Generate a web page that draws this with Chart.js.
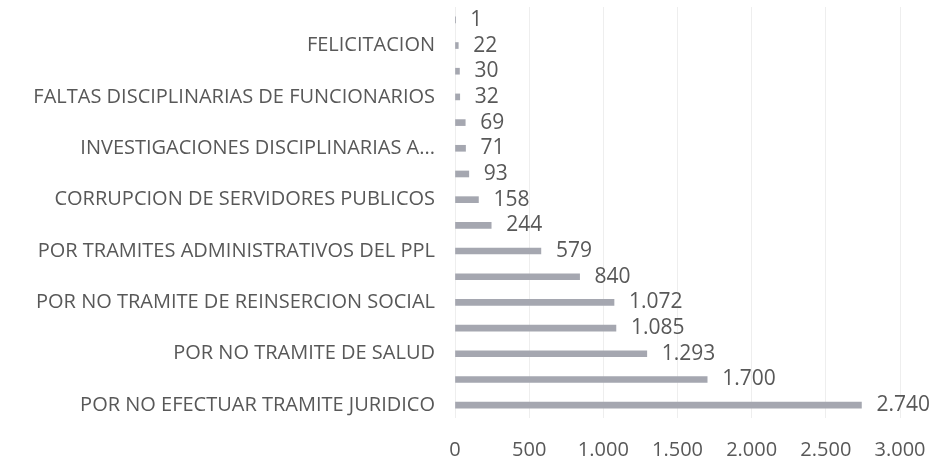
<!DOCTYPE html>
<html>
<head>
<meta charset="utf-8">
<script src="https://cdn.jsdelivr.net/npm/chart.js@4.4.1/dist/chart.umd.min.js"></script>
<style>
  html, body { margin: 0; padding: 0; background: #ffffff; }
  #wrap { width: 938px; height: 462px; position: relative; }
</style>
</head>
<body>
<div id="wrap"><canvas id="c"></canvas></div>
<script>
// Categories, top to bottom (unlabelled rows in the picture are left blank)
const categories = [
  "",
  "FELICITACION",
  "",
  "FALTAS DISCIPLINARIAS DE FUNCIONARIOS",
  "",
  "INVESTIGACIONES DISCIPLINARIAS A...",
  "",
  "CORRUPCION DE SERVIDORES PUBLICOS",
  "",
  "POR TRAMITES ADMINISTRATIVOS DEL PPL",
  "",
  "POR NO TRAMITE DE REINSERCION SOCIAL",
  "",
  "POR NO TRAMITE DE SALUD",
  "",
  "POR NO EFECTUAR TRAMITE JURIDICO"
];
const values = [1, 22, 30, 32, 69, 71, 93, 158, 244, 579, 840, 1072, 1085, 1293, 1700, 2740];
const xTicks = [0, 500, 1000, 1500, 2000, 2500, 3000];

const FONT = "'Open Sans', sans-serif";
const TEXT = '#585858';
const fmt = v => v.toLocaleString('de-DE');

const valueLabels = {
  id: 'valueLabels',
  afterDatasetsDraw(chart) {
    const ctx = chart.ctx;
    const meta = chart.getDatasetMeta(0);
    ctx.save();
    ctx.font = "21px " + FONT;
    ctx.fillStyle = TEXT;
    ctx.textBaseline = 'middle';
    ctx.textAlign = 'left';
    meta.data.forEach((el, i) => {
      const txt = fmt(values[i]);
      const w = ctx.measureText(txt).width;
      let x = el.x + 15;
      const maxX = chart.width - w - 2;
      if (x > maxX) x = maxX;
      ctx.fillText(txt, x, el.y);
    });
    ctx.restore();
  }
};

new Chart(document.getElementById('c'), {
  type: 'bar',
  data: {
    labels: categories,
    datasets: [{
      data: values,
      backgroundColor: '#a5a7b0',
      borderWidth: 0,
      barThickness: 6
    }]
  },
  options: {
    indexAxis: 'y',
    responsive: true,
    maintainAspectRatio: false,
    animation: false,
    layout: { padding: { top: 7, right: 38, bottom: 0, left: 0 } },
    plugins: { legend: { display: false }, tooltip: { enabled: false } },
    scales: {
      x: {
        min: 0,
        max: 3000,
        afterBuildTicks: s => { s.ticks = xTicks.map(v => ({ value: v })); },
        afterFit: s => { s.height = 44; s.paddingLeft = 0; s.paddingRight = 0; },
        ticks: {
          callback: v => fmt(v),
          color: TEXT,
          font: { family: FONT, size: 20 },
          padding: 20,
          maxRotation: 0
        },
        grid: { color: '#eeeeee', drawTicks: false },
        border: { display: false }
      },
      y: {
        afterFit: s => { s.width = 455; s.paddingTop = 0; s.paddingBottom = 0; },
        ticks: {
          autoSkip: false,
          color: TEXT,
          font: { family: FONT, size: 20 },
          padding: 20
        },
        grid: { display: false, drawTicks: false },
        border: { display: false }
      }
    }
  },
  plugins: [valueLabels]
});
</script>
</body>
</html>
